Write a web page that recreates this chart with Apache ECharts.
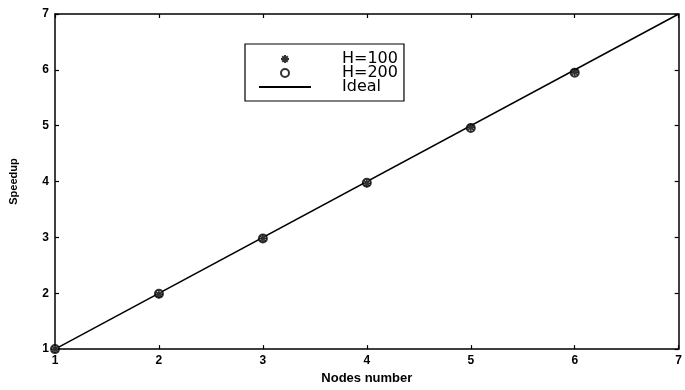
<!DOCTYPE html>
<html>
<head>
<meta charset="utf-8">
<script src="https://cdn.jsdelivr.net/npm/echarts@6/dist/echarts.min.js"></script>
<style>
  html, body { margin: 0; padding: 0; background: #fff; }
  #main { width: 685px; height: 390px; }
</style>
</head>
<body>
<div id="main"></div>
<script>
// nodes and measured speedup
const nodes = [1, 2, 3, 4, 5, 6];
const speedupH100 = [1, 1.98, 2.98, 3.97, 4.97, 5.96];
const speedupH200 = [1, 1.99, 2.98, 3.98, 4.96, 5.95];
// ideal line end points
const idealNodes = [1, 7];
const idealSpeedup = [1, 7];
const tickValues = [1, 2, 3, 4, 5, 6, 7];

const asterisk = 'path://M0,5L10,5M5,0L5,10M1.5,1.5L8.5,8.5M8.5,1.5L1.5,8.5';
const font = 'Liberation Sans';

const zip = (xs, ys) => xs.map((x, i) => [x, ys[i]]);

// box axes like matlab: ticks inside, labels only bottom/left
const axisBase = {
  type: 'value',
  min: tickValues[0],
  max: tickValues[tickValues.length - 1],
  interval: 1,
  splitLine: { show: false },
  axisLine: { show: true, onZero: false, lineStyle: { color: '#000', width: 1.5 } },
  axisTick: { show: true, inside: true, length: 4, lineStyle: { color: '#000', width: 1.2 } },
};

const chart = echarts.init(document.getElementById('main'));
chart.setOption({
  backgroundColor: '#fff',
  animation: false,
  grid: { left: 55, right: 1, top: 14, bottom: 38 },
  legend: {
    orient: 'vertical',
    left: 245,
    top: 44,
    padding: [7, 6, 6, 13],
    itemGap: -2,
    itemWidth: 52,
    itemHeight: 8,
    borderColor: '#000',
    borderWidth: 1.2,
    backgroundColor: '#fff',
    data: ['H=100', 'H=200', { name: 'Ideal', itemStyle: { opacity: 0 } }],
    textStyle: { color: '#000', fontSize: 16, lineHeight: 14, fontFamily: 'DejaVu Sans', padding: [0, 0, 0, 26] }
  },
  xAxis: [
    Object.assign({}, axisBase, {
      position: 'bottom',
      name: 'Nodes number',
      nameLocation: 'middle',
      nameGap: 22,
      nameTextStyle: { color: '#000', fontSize: 13, fontFamily: font, fontWeight: 'bold' },
      axisLabel: { color: '#000', fontSize: 12, fontFamily: font, fontWeight: 'bold', margin: 6 }
    }),
    Object.assign({}, axisBase, { position: 'top', axisLabel: { show: false } })
  ],
  yAxis: [
    Object.assign({}, axisBase, {
      position: 'left',
      name: 'Speedup',
      nameLocation: 'middle',
      nameGap: 36,
      nameTextStyle: { color: '#000', fontSize: 11, fontFamily: font, fontWeight: 'bold' },
      axisLabel: { color: '#000', fontSize: 12, fontFamily: font, fontWeight: 'bold', margin: 6 }
    }),
    Object.assign({}, axisBase, { position: 'right', axisLabel: { show: false } })
  ],
  series: [
    {
      name: 'Ideal',
      type: 'line',
      data: zip(idealNodes, idealSpeedup),
      symbol: 'none',
      lineStyle: { color: '#000', width: 1.5 },
      itemStyle: { color: '#000' },
      z: 1
    },
    {
      name: 'H=100',
      type: 'scatter',
      data: zip(nodes, speedupH100),
      symbol: asterisk,
      symbolSize: 8,
      itemStyle: { color: 'none', borderColor: '#000', borderWidth: 1.6 },
      z: 3
    },
    {
      name: 'H=200',
      type: 'scatter',
      data: zip(nodes, speedupH200),
      symbol: 'emptyCircle',
      symbolSize: 8,
      itemStyle: { color: '#000', borderColor: '#000', borderWidth: 1.5 },
      z: 2
    }
  ]
});
</script>
</body>
</html>
